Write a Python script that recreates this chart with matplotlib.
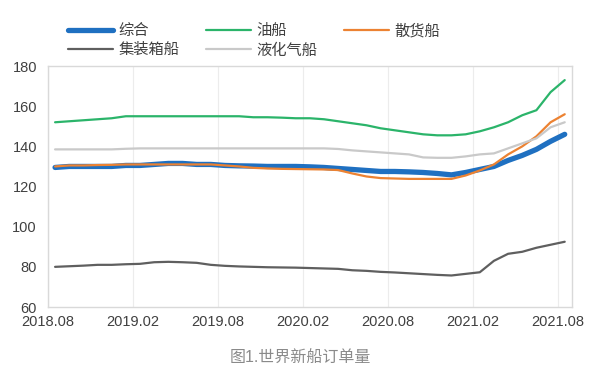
import numpy as np
import matplotlib.pyplot as plt

plt.rcParams['font.family'] = ['Liberation Sans', 'Noto Sans CJK SC', 'DejaVu Sans']

# 月份: 2018.08 - 2021.08
months = [f"{2018 + (7 + i) // 12}.{(7 + i) % 12 + 1:02d}" for i in range(37)]
tick_labels = ['2018.08', '2019.02', '2019.08', '2020.02', '2020.08', '2021.02', '2021.08']

zonghe = [129.5, 130, 130, 130, 130, 130.5, 130.5, 131, 131.5, 131.5, 131, 131, 130.5,
          130.3, 130.2, 130, 130, 130, 129.8, 129.5, 129, 128.5, 128, 127.5, 127.5,
          127.3, 127, 126.5, 125.8, 127, 128.5, 130, 133, 135.5, 138.5, 142.5, 146]
youchuan = [152, 152.5, 153, 153.5, 154, 155, 155, 155, 155, 155, 155, 155, 155, 155,
            154.5, 154.5, 154.3, 154, 154, 153.5, 152.5, 151.5, 150.5, 149, 148, 147,
            146, 145.5, 145.5, 146, 147.5, 149.5, 152, 155.5, 158, 167, 173]
sanhuo = [130, 130.5, 130.5, 130.7, 130.8, 131, 131, 131, 131, 131, 131, 131, 130.5,
          130, 129.3, 129, 128.8, 128.7, 128.6, 128.5, 128.2, 126.5, 125, 124.2, 124,
          123.8, 123.8, 123.8, 123.8, 125.5, 128, 131, 136, 140, 145, 152, 156]
jizhuangxiang = [80, 80.3, 80.6, 81, 81, 81.3, 81.5, 82.3, 82.5, 82.3, 82, 81, 80.5,
                 80.2, 80, 79.8, 79.7, 79.6, 79.4, 79.2, 79, 78.3, 78, 77.5, 77.2, 76.8,
                 76.4, 76, 75.7, 76.5, 77.3, 83, 86.5, 87.5, 89.5, 91, 92.5]
yehuaqi = [138.5, 138.5, 138.5, 138.5, 138.5, 138.8, 139, 139, 139, 139, 139, 139, 139,
           139, 139, 139, 139, 139, 139, 139, 138.7, 138, 137.5, 137, 136.5, 136, 134.5,
           134.3, 134.3, 135, 136, 136.5, 139, 141.5, 144, 149.5, 152]

series = [
    ('综合', zonghe, '#1f70c1', 3.8),
    ('油船', youchuan, '#2bb46a', 1.6),
    ('散货船', sanhuo, '#ec8232', 1.6),
    ('集装箱船', jizhuangxiang, '#5f5f5f', 1.6),
    ('液化气船', yehuaqi, '#c9c9c9', 1.6),
]

fig = plt.figure(figsize=(6, 3.84), dpi=100)
ax = fig.add_axes([0.08, 0.2005, 0.873, 0.6275])

x = np.arange(len(months))
lines = {}
for name, vals, col, lw in series:
    lines[name], = ax.plot(x, vals, color=col, lw=lw, solid_capstyle='round', label=name)

ax.set_xlim(-0.5, 36.5)
ax.set_ylim(60, 180)
ax.set_yticks(range(60, 181, 20))
ax.set_xticks(np.arange(-0.5, 37, 6))
ax.set_xticklabels(tick_labels)
ax.tick_params(length=0, labelsize=10.5, colors='#404040', pad=6)
ax.tick_params(axis='y', pad=8)
ax.grid(axis='x', color='#ececec', lw=0.8)
ax.set_axisbelow(True)
for s in ax.spines.values():
    s.set_color('#d9d9d9')
    s.set_linewidth(1)

# 图例: 列优先排列
order = ['综合', '集装箱船', '油船', '液化气船', '散货船']
leg = fig.legend([lines[n] for n in order], order, loc='upper left',
                 bbox_to_anchor=(0.09, 0.975), ncol=3, frameon=False,
                 fontsize=11, handlelength=2.95, handletextpad=0.35,
                 columnspacing=1.75, labelspacing=0.35)
for t in leg.get_texts():
    t.set_color('#404040')

fig.text(0.5, 0.068, '图1.世界新船订单量', ha='center', va='center',
         fontsize=11.5, color='#8a8a8a')

fig.savefig('out.png', dpi=100)
